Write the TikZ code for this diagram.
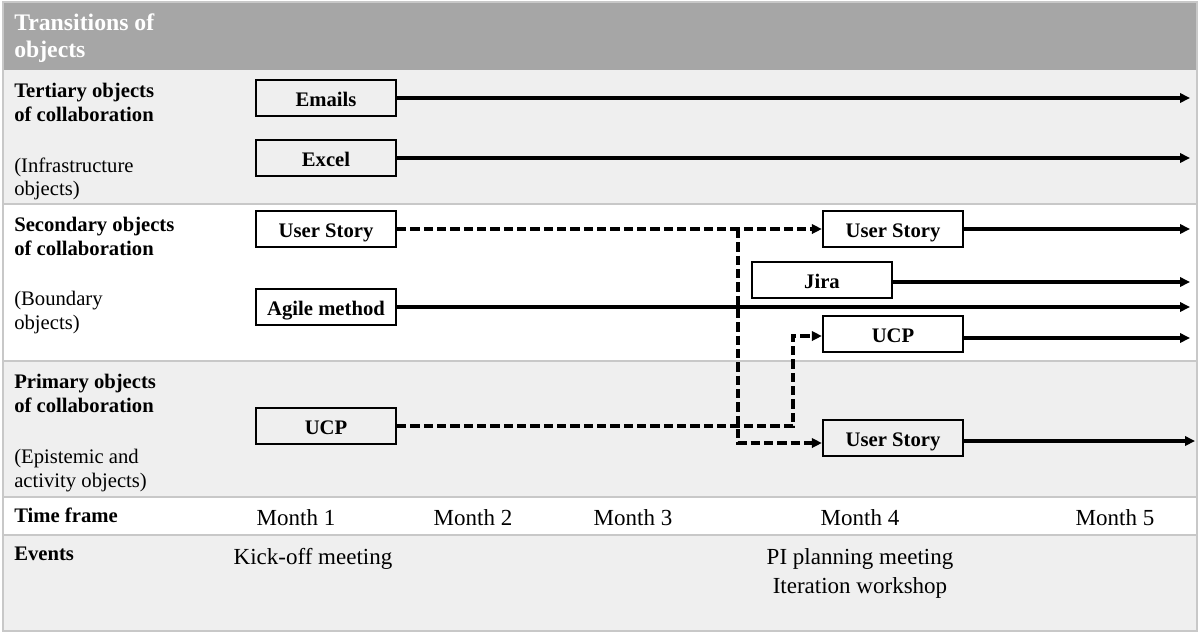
\documentclass[tikz,border=0pt]{standalone}
\usepackage{fontspec}
\setmainfont{Liberation Serif}
\usetikzlibrary{arrows.meta,calc}
\definecolor{hdr}{HTML}{A6A6A6}
\definecolor{band}{HTML}{EFEFEF}
\definecolor{sepc}{HTML}{C8C8C8}
\begin{document}
\begin{tikzpicture}[x=0.75pt,y=-0.75pt,
  objbox/.style={draw=black, line width=1.7pt, minimum width=105pt, minimum height=27pt,
    inner sep=0pt, text height=12pt, text depth=0pt, font=\fontsize{15.5}{18}\selectfont\bfseries},
  flow/.style={line width=2.3pt, -{Triangle[length=7.5pt,width=7pt]}},
  dflow/.style={flow, dash pattern=on 7pt off 3pt},
  lbl/.style={anchor=base west, inner sep=0pt, font=\fontsize{15.5}{18}\selectfont\bfseries},
  plbl/.style={anchor=base west, inner sep=0pt, font=\fontsize{15.5}{18}\selectfont},
  big/.style={anchor=base, inner sep=0pt, font=\fontsize{17.25}{21}\selectfont},
  sepline/.style={draw=sepc, line width=1.5pt}]
\useasboundingbox (0,0) rectangle (1199,633);
% bands
\fill[hdr] (3,2) rectangle (1197,70);
\fill[band] (3,70) rectangle (1197,204);
\fill[white] (3,204) rectangle (1197,361);
\fill[band] (3,361) rectangle (1197,497);
\fill[white] (3,497) rectangle (1197,535);
\fill[band] (3,535) rectangle (1197,631);
\draw[sepline] (3,204) -- (1197,204);
\draw[sepline] (3,361) -- (1197,361);
\draw[sepline] (3,497) -- (1197,497);
\draw[sepline] (3,535) -- (1197,535);
\draw[sepline, line width=1.2pt] (3,2) rectangle (1197,631);
% header
\node[anchor=base west, inner sep=0pt, text=white, font=\fontsize{17.8}{21}\selectfont\bfseries] (t1) at (14,30) {Transitions of};
\node[anchor=base west, inner sep=0pt, text=white, font=\fontsize{17.8}{21}\selectfont\bfseries] (t2) at (14,57) {objects};
% left labels
\node[lbl] (ter1) at (14,97) {Tertiary objects};
\node[lbl] (ter2) at (14,121) {of collaboration};
\node[plbl] (ter3) at (14,172) {(Infrastructure};
\node[plbl] (ter4) at (14,195) {objects)};
\node[lbl] (sec1) at (14,231) {Secondary objects};
\node[lbl] (sec2) at (14,255) {of collaboration};
\node[plbl] (sec3) at (14,305) {(Boundary};
\node[plbl] (sec4) at (14,329) {objects)};
\node[lbl] (pri1) at (14,388) {Primary objects};
\node[lbl] (pri2) at (14,412) {of collaboration};
\node[plbl] (pri3) at (14,463) {(Epistemic and};
\node[plbl] (pri4) at (14,487) {activity objects)};
\node[lbl] (tf) at (14,522) {Time frame};
\node[lbl] (ev) at (14,560) {Events};
% months and events
\node[big] (m1) at (296,525) {Month 1};
\node[big] (m2) at (473,525) {Month 2};
\node[big] (m3) at (633,525) {Month 3};
\node[big] (m4) at (860,525) {Month 4};
\node[big] (m5) at (1115,525) {Month 5};
\node[big] (ev1) at (313,564) {Kick-off meeting};
\node[big] (ev2) at (860,564) {PI planning meeting};
\node[big] (ev3) at (860,593) {Iteration workshop};
% object boxes
\node[objbox] (emails) at (326,98) {Emails};
\node[objbox] (excel) at (326,158) {Excel};
\node[objbox] (us1) at (326,229) {User Story};
\node[objbox] (agile) at (326,307) {Agile method};
\node[objbox] (ucp1) at (326,426) {UCP};
\node[objbox] (us2) at (893,229) {User Story};
\node[objbox] (jira) at (822,280) {Jira};
\node[objbox] (ucp2) at (893,334) {UCP};
\node[objbox] (us3) at (893,438) {User Story};
% connector ends
\coordinate (endx) at (1190,0);
\coordinate (endx2) at (1195,0);
\coordinate (split) at (738,229);
\coordinate (bendx) at (793,0);
% solid arrows
\draw[flow] (emails.east) -- (emails.east -| endx);
\draw[flow] (excel.east) -- (excel.east -| endx);
\draw[flow] (us2.east) -- (us2.east -| endx);
\draw[flow] ($(jira.east)+(0,2)$) -- ($(jira.east -| endx)+(0,2)$);
\draw[flow] (agile.east) -- (agile.east -| endx);
\draw[flow] ($(ucp2.east)+(0,4)$) -- ($(ucp2.east -| endx)+(0,4)$);
\draw[flow] ($(us3.east)+(0,3)$) -- ($(us3.east -| endx2)+(0,3)$);
% dashed transitions
\draw[dflow] (us1.east) -- (us2.west);
\draw[dflow] (split) |- ($(us3.west)+(0,5)$);
\draw[dflow] (ucp1.east) -- (ucp1.east -| bendx) |- ($(ucp2.west)+(0,2)$);
\end{tikzpicture}
\end{document}
